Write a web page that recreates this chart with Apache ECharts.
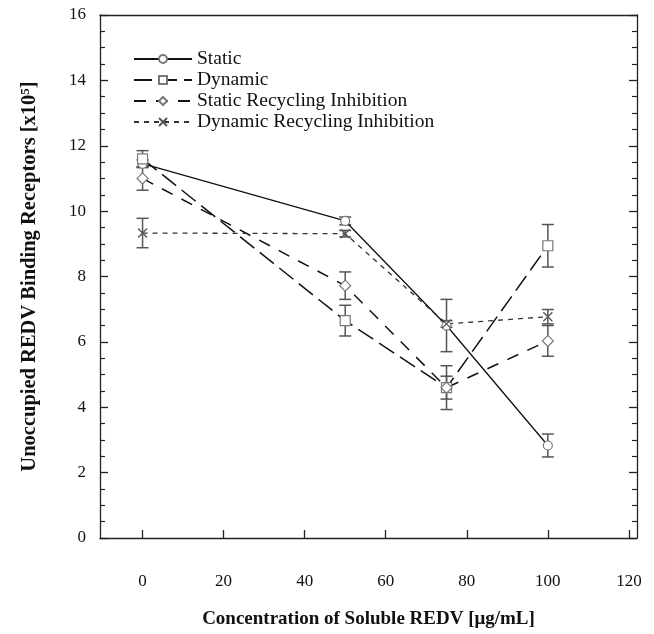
<!DOCTYPE html>
<html><head><meta charset="utf-8">
<script src="https://cdn.jsdelivr.net/npm/echarts@6/dist/echarts.min.js"></script>
<style>html,body{margin:0;padding:0;background:#fff}#c{width:654px;height:634px}</style>
</head><body><div id="c"></div>
<script>
const concentrations = [0, 50, 75, 100];
const staticVals = [11.45, 9.7, 6.5, 2.83];
const staticErr = [0.12, 0.12, 0.8, 0.35];
const dynamicVals = [11.6, 6.65, 4.6, 8.94];
const dynamicErr = [0.25, 0.47, 0.35, 0.65];
const staticRIVals = [11.0, 7.72, 4.6, 6.03];
const staticRIErr = [0.36, 0.42, 0.67, 0.47];
const dynamicRIVals = [9.33, 9.31, 6.55, 6.77];
const dynamicRIErr = [0.45, 0.1, 0.1, 0.22];
const xTicks = [0, 20, 40, 60, 80, 100, 120];
const seriesNames = ['Static', 'Dynamic', 'Static Recycling Inhibition', 'Dynamic Recycling Inhibition'];

const FONT = '"Liberation Serif", "DejaVu Serif", serif';
const pairs = v => concentrations.map((x, i) => [x, v[i]]);
const errData = (v, e) => concentrations.map((x, i) => [x, v[i], e[i]]);

function errSeries(v, e) {
  return {
    type: 'custom',
    data: errData(v, e),
    z: 1,
    silent: true,
    renderItem: function (params, api) {
      const x = api.value(0), y = api.value(1), er = api.value(2);
      const top = api.coord([x, y + er]);
      const bot = api.coord([x, y - er]);
      const w = 6;
      const st = { stroke: '#555', lineWidth: 1.5 };
      return {
        type: 'group',
        children: [
          { type: 'line', shape: { x1: top[0], y1: top[1], x2: bot[0], y2: bot[1] }, style: st },
          { type: 'line', shape: { x1: top[0] - w, y1: top[1], x2: top[0] + w, y2: top[1] }, style: st },
          { type: 'line', shape: { x1: bot[0] - w, y1: bot[1], x2: bot[0] + w, y2: bot[1] }, style: st }
        ]
      };
    }
  };
}

const markerStyle = { color: '#fff', borderColor: '#777', borderWidth: 1.2 };

const option = {
  backgroundColor: '#fff',
  animation: false,
  grid: { left: 100, top: 15, width: 537, height: 526 },
  legend: {
    data: seriesNames,
    orient: 'vertical',
    left: 128,
    top: 44,
    itemWidth: 58,
    itemHeight: 10,
    itemGap: 1,
    textStyle: { fontFamily: FONT, fontSize: 19.5, color: '#111' }
  },
  xAxis: [{
    type: 'value', min: -10.5, max: 122,
    axisLine: { show: true, onZero: false, lineStyle: { color: '#222', width: 1.3 } },
    axisTick: { show: true, inside: true, length: 8, customValues: xTicks, lineStyle: { color: '#222', width: 1.3 } },
    axisLabel: { customValues: xTicks, margin: 35, fontFamily: FONT, fontSize: 17, color: '#111' },
    splitLine: { show: false },
    name: 'Concentration of Soluble REDV [μg/mL]',
    nameLocation: 'middle', nameGap: 72,
    nameTextStyle: { fontFamily: FONT, fontSize: 19, fontWeight: 'bold', color: '#111' }
  }, {
    type: 'value', min: -10.5, max: 122, position: 'top',
    axisLine: { show: true, onZero: false, lineStyle: { color: '#222', width: 1.3 } },
    axisTick: { show: false }, axisLabel: { show: false }, splitLine: { show: false }
  }],
  yAxis: [{
    type: 'value', min: 0, max: 16, interval: 2,
    axisLine: { show: true, onZero: false, lineStyle: { color: '#222', width: 1.3 } },
    axisTick: { show: true, inside: true, length: 8, lineStyle: { color: '#222', width: 1.3 } },
    minorTick: { show: true, splitNumber: 4, length: 5, lineStyle: { color: '#222', width: 1.2 } },
    axisLabel: { margin: 14, fontFamily: FONT, fontSize: 17, color: '#111' },
    splitLine: { show: false },
    name: '{t|Unoccupied REDV Binding Receptors [x10}{s|5}{t|]}',
    nameLocation: 'middle', nameGap: 60,
    nameTextStyle: {
      rich: {
        t: { fontFamily: FONT, fontSize: 20.5, fontWeight: 'bold', color: '#111' },
        s: { fontFamily: FONT, fontSize: 13, fontWeight: 'bold', color: '#111', verticalAlign: 'top', padding: [0, 0, 8, 0] }
      }
    }
  }, {
    type: 'value', min: 0, max: 16, interval: 2, position: 'right',
    axisLine: { show: true, onZero: false, lineStyle: { color: '#222', width: 1.3 } },
    axisTick: { show: true, inside: true, length: 8, lineStyle: { color: '#222', width: 1.3 } },
    minorTick: { show: true, splitNumber: 4, length: 5, lineStyle: { color: '#222', width: 1.2 } },
    axisLabel: { show: false }, splitLine: { show: false }
  }],
  series: [
    errSeries(staticVals, staticErr),
    errSeries(dynamicVals, dynamicErr),
    errSeries(staticRIVals, staticRIErr),
    errSeries(dynamicRIVals, dynamicRIErr),
    {
      name: seriesNames[0], type: 'line', data: pairs(staticVals), z: 3,
      symbol: 'circle', symbolSize: 9, itemStyle: markerStyle,
      lineStyle: { color: '#111', width: 1.3, type: 'solid' }
    },
    {
      name: seriesNames[1], type: 'line', data: pairs(dynamicVals), z: 3,
      symbol: 'rect', symbolSize: 10, itemStyle: markerStyle,
      lineStyle: { color: '#111', width: 1.5, type: [18, 7] }
    },
    {
      name: seriesNames[2], type: 'line', data: pairs(staticRIVals), z: 3,
      symbol: 'diamond', symbolSize: 11, itemStyle: markerStyle,
      lineStyle: { color: '#111', width: 1.5, type: [12, 10] }
    },
    {
      name: seriesNames[3], type: 'line', data: pairs(dynamicRIVals), z: 3,
      symbol: 'path://M0,0L10,10M10,0L0,10', symbolSize: 9,
      itemStyle: { color: 'none', borderColor: '#555', borderWidth: 1.3 },
      lineStyle: { color: '#333', width: 1.3, type: [5, 5] }
    }
  ]
};

const chart = echarts.init(document.getElementById('c'), null, { renderer: 'canvas' });
chart.setOption(option);
</script>
</body></html>
